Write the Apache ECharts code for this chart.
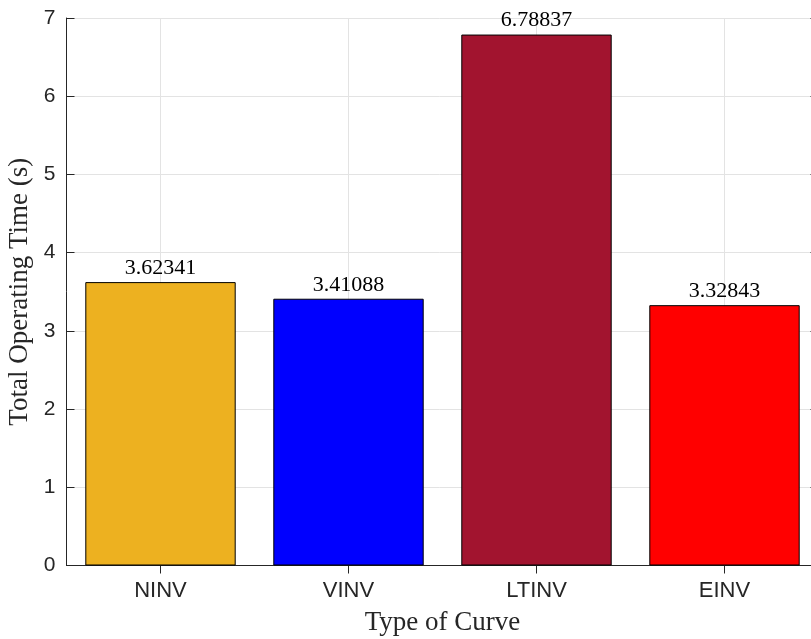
<!DOCTYPE html>
<html>
<head>
<meta charset="utf-8">
<script src="https://cdn.jsdelivr.net/npm/echarts@6/dist/echarts.min.js"></script>
<style>html,body{margin:0;padding:0;background:#fff}#c{width:811px;height:639px}</style>
</head>
<body>
<div id="c"></div>
<script>
const categories = ['NINV', 'VINV', 'LTINV', 'EINV'];
const values = [3.62341, 3.41088, 6.78837, 3.32843];
const valueLabels = ['3.62341', '3.41088', '6.78837', '3.32843'];
const barColors = ['#EDB120', '#0000FF', '#A2142F', '#FF0000'];
const yTicks = [0, 1, 2, 3, 4, 5, 6, 7];

const axisColor = '#262626';
const gridColor = '#e3e3e3';
const chart = echarts.init(document.getElementById('c'), null, {renderer: 'canvas'});
chart.setOption({
  animation: false,
  backgroundColor: '#fff',
  grid: {left: 66.5, top: 18, width: 752, bottom: 73.5, containLabel: false, outerBoundsMode: 'none'},
  xAxis: [{
    type: 'category',
    data: categories,
    position: 'bottom',
    boundaryGap: true,
    name: 'Type of Curve',
    nameLocation: 'middle',
    nameGap: 44,
    nameTextStyle: {fontFamily: 'Liberation Serif', fontSize: 27, color: axisColor},
    axisLine: {show: true, lineStyle: {color: axisColor, width: 1}},
    axisTick: {show: true, inside: true, length: 8, alignWithLabel: true, lineStyle: {color: axisColor, width: 1}},
    axisLabel: {fontFamily: 'Liberation Sans', fontSize: 22, color: axisColor, margin: 14},
    splitLine: {show: true, alignWithLabel: true, lineStyle: {color: gridColor, width: 1}}
  }, {
    type: 'category',
    data: categories,
    position: 'top',
    boundaryGap: true,
    axisLine: {show: true, lineStyle: {color: axisColor, width: 1}},
    axisTick: {show: true, inside: true, length: 8, alignWithLabel: true, lineStyle: {color: axisColor, width: 1}},
    axisLabel: {show: false},
    splitLine: {show: false}
  }],
  yAxis: [{
    type: 'value',
    min: 0, max: 7, interval: 1,
    position: 'left',
    name: 'Total Operating Time (s)',
    nameLocation: 'middle',
    nameGap: 31,
    nameTextStyle: {fontFamily: 'Liberation Serif', fontSize: 27, color: axisColor},
    axisLine: {show: true, lineStyle: {color: axisColor, width: 1}},
    axisTick: {show: true, inside: true, length: 8, lineStyle: {color: axisColor, width: 1}},
    axisLabel: {fontFamily: 'Liberation Sans', fontSize: 21, color: axisColor, margin: 11,
      formatter: v => yTicks.includes(v) ? String(v) : ''},
    splitLine: {show: true, lineStyle: {color: gridColor, width: 1}}
  }, {
    type: 'value',
    min: 0, max: 7, interval: 1,
    position: 'right',
    axisLine: {show: true, lineStyle: {color: axisColor, width: 1}},
    axisTick: {show: true, inside: true, length: 8, lineStyle: {color: axisColor, width: 1}},
    axisLabel: {show: false},
    splitLine: {show: false}
  }],
  series: [{
    type: 'bar',
    xAxisIndex: 0,
    yAxisIndex: 0,
    barWidth: '80%',
    data: values.map((v, i) => ({value: v, itemStyle: {color: barColors[i]}})),
    itemStyle: {borderColor: '#000', borderWidth: 1},
    label: {
      show: true, position: 'top', distance: 3,
      fontFamily: 'Liberation Serif', fontSize: 22, color: '#000',
      formatter: p => valueLabels[p.dataIndex]
    }
  }]
});
</script>
</body>
</html>
